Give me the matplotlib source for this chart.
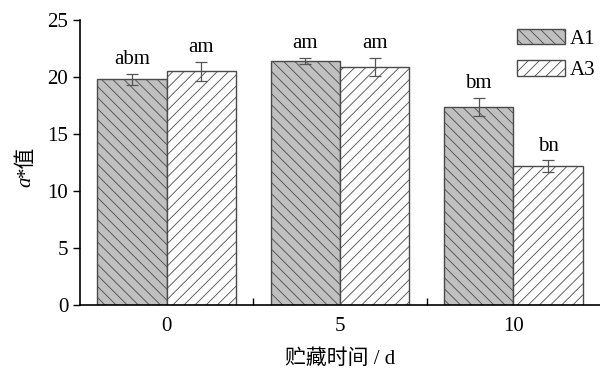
import numpy as np
import matplotlib
matplotlib.use("Agg")
import matplotlib.pyplot as plt
from matplotlib.ticker import FixedLocator

plt.rcParams['font.family'] = ['Liberation Serif', 'Noto Sans CJK SC']
plt.rcParams['hatch.linewidth'] = 0.6

# data
days = ['0', '5', '10']
series = ['A1', 'A3']
a1_vals = [19.8, 21.4, 17.4]
a1_err = [0.5, 0.3, 0.8]
a3_vals = [20.5, 20.9, 12.2]
a3_err = [0.85, 0.8, 0.5]
a1_labels = ['abm', 'am', 'bm']
a3_labels = ['am', 'am', 'bn']

x = np.arange(len(days))
w = 0.4

fig = plt.figure(figsize=(6, 3.71), dpi=100)
ax = fig.add_axes([0.1333, 0.178, 0.8667, 0.768])

ax.bar(x - w/2, a1_vals, w, color='#c0c0c0', edgecolor='#4a4a4a',
       hatch='\\\\\\', linewidth=1.0, label=series[0])
ax.bar(x + w/2, a3_vals, w, color='white', edgecolor='#4a4a4a',
       hatch='///', linewidth=1.0, label=series[1])
ax.errorbar(x - w/2, a1_vals, yerr=a1_err, fmt='none', ecolor='#555555',
            elinewidth=0.9, capsize=4, capthick=0.9)
ax.errorbar(x + w/2, a3_vals, yerr=a3_err, fmt='none', ecolor='#555555',
            elinewidth=0.9, capsize=4, capthick=0.9)

for xi, v, e, t in zip(x - w/2, a1_vals, a1_err, a1_labels):
    ax.text(xi, v + e + 0.4, t, ha='center', va='bottom', fontsize=15)
for xi, v, e, t in zip(x + w/2, a3_vals, a3_err, a3_labels):
    ax.text(xi, v + e + 0.4, t, ha='center', va='bottom', fontsize=15)

ax.set_ylim(0, 25)
ax.set_xlim(-0.5, 2.5)
ax.set_yticks([0, 5, 10, 15, 20, 25])
ax.set_xticks(x)
ax.set_xticklabels(days)
ax.xaxis.set_minor_locator(FixedLocator([0.5, 1.5]))
ax.tick_params(axis='x', which='major', length=0, pad=9, labelsize=15)
ax.tick_params(axis='x', which='minor', direction='in', length=5, width=1)
ax.tick_params(axis='y', direction='out', length=5, width=1, labelsize=15)
ax.spines['top'].set_visible(False)
ax.spines['right'].set_visible(False)
ax.spines['left'].set_linewidth(1.2)
ax.spines['bottom'].set_linewidth(1.2)

# y label: italic "a" followed by "*值"
ax.text(-0.104, 0.45, '*值', transform=ax.transAxes, rotation=90,
        ha='center', va='bottom', fontsize=15)
ax.text(-0.104, 0.45, 'a', transform=ax.transAxes, rotation=90,
        ha='center', va='top', fontsize=15, style='italic')
ax.set_xlabel('贮藏时间 / d', fontsize=15, labelpad=9)

ax.legend(loc='upper right', bbox_to_anchor=(1.02, 1.02), frameon=False,
          fontsize=15, handlelength=2.3, handleheight=0.75, labelspacing=0.55,
          handletextpad=0.25, borderpad=0.2)

fig.savefig('out.png', dpi=100)
